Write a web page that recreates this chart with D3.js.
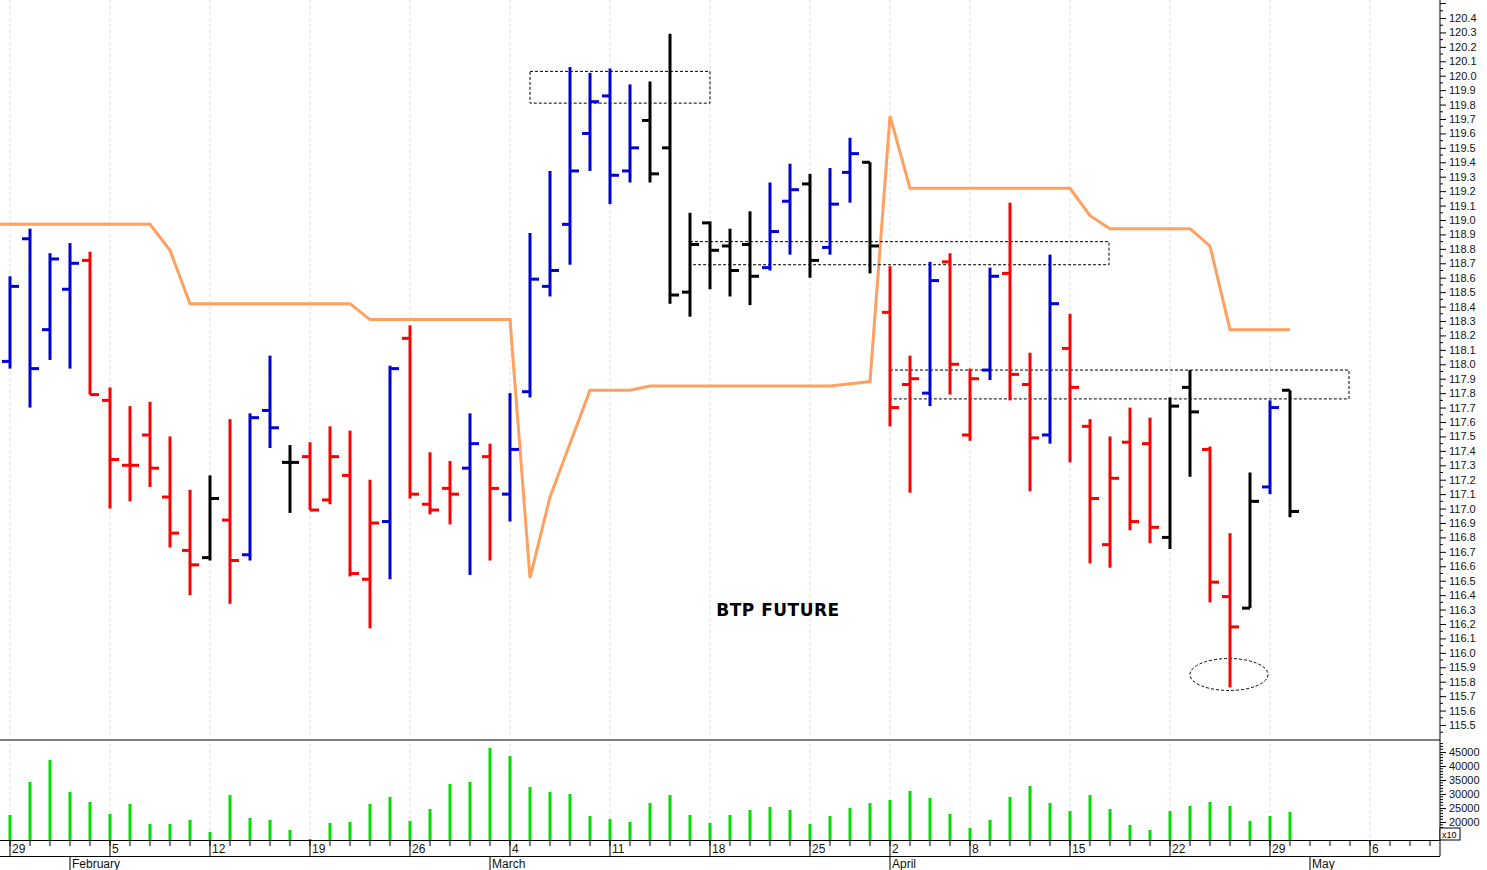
<!DOCTYPE html>
<html><head><meta charset="utf-8">
<script src="https://cdn.jsdelivr.net/npm/d3@7"></script>
<style>body{margin:0;background:#fff;overflow:hidden}svg{display:block;font-family:"Liberation Sans",Arial,sans-serif}</style>
</head><body><svg id="c" width="1487" height="870"></svg>
<script>
const opens  = [118.02,118.87,118.24,118.52,118.72,117.75,117.30,117.51,117.08,116.71,116.66,116.92,116.68,117.68,117.32,117.36,117.06,117.23,116.51,116.91,118.18,117.03,117.14,117.28,117.36,117.10,117.81,118.54,118.97,119.60,119.86,119.34,119.69,119.50,118.50,118.98,118.82,118.83,118.67,119.13,119.25,118.81,119.33,119.40,118.36,117.86,117.80,118.71,117.51,117.96,118.63,117.86,117.51,118.11,117.57,116.75,117.46,117.45,116.80,117.84,117.41,116.39,116.31,117.15,117.82];
const highs  = [118.61,118.94,118.77,118.84,118.78,117.84,117.71,117.74,117.50,117.13,117.23,117.62,117.66,118.06,117.44,117.46,117.57,117.54,117.20,117.99,118.27,117.39,117.33,117.66,117.45,117.80,118.91,119.34,120.06,120.02,120.05,119.94,119.96,120.29,119.05,118.99,118.94,119.06,119.26,119.39,119.32,119.36,119.57,119.40,118.68,118.06,118.71,118.77,117.97,118.67,119.12,118.08,118.76,118.35,117.62,117.50,117.70,117.63,117.77,117.96,117.43,116.83,117.25,117.75,117.82];
const lows   = [117.97,117.70,118.03,117.97,117.79,117.00,117.05,117.15,116.73,116.40,116.64,116.34,116.64,117.42,116.97,116.99,117.03,116.53,116.17,116.51,117.07,116.96,116.89,116.54,116.64,116.91,117.77,118.47,118.69,119.34,119.11,119.26,119.26,118.42,118.33,118.52,118.47,118.41,118.65,118.76,118.60,118.76,119.12,118.63,117.57,117.11,117.71,117.79,117.47,117.89,117.75,117.12,117.45,117.32,116.62,116.59,116.85,116.76,116.72,117.22,116.35,115.76,116.31,117.10,116.94];
const closes = [118.54,117.97,118.73,118.70,117.79,117.34,117.30,117.28,116.83,116.61,117.07,116.64,117.63,117.56,117.32,116.99,117.36,116.55,116.90,117.97,117.10,116.99,117.10,117.45,117.14,117.41,118.59,118.65,119.34,119.82,119.31,119.50,119.32,118.48,118.83,118.79,118.65,118.61,118.92,119.21,118.72,119.11,119.46,118.82,117.70,117.90,118.58,118.00,117.90,118.61,117.93,117.49,118.42,117.84,117.07,117.21,116.91,116.87,117.71,117.67,116.49,116.18,117.05,117.70,116.98];
const barColors = "bbbbrrrrrrkrbbkrrrrbrrrbrbbbbbbbkkkkkkbbkbbkrrbrrbrrbrrrrrkkrrkbk";
const volumes = [22500,34280,42130,30710,27140,22860,26430,19290,19290,20710,16430,29640,21430,20710,17140,13930,19640,20000,26430,28930,20360,24640,33570,34280,46420,43560,32500,30710,30000,22140,21070,20000,26780,29640,22500,19640,22500,24280,25360,24280,19290,22140,25000,26780,27850,31070,28570,22860,17860,20710,28930,32850,26780,23930,29640,24640,18930,17140,23930,25710,27140,25710,20360,22140,23570];
const bandIdx = [-1,7,8,9,17,18,25,26,27,29,31,32,41,43,44,45,53,54,55,59,60,61,64];
const bandVal = [118.97,118.97,118.79,118.42,118.42,118.31,118.31,116.52,117.08,117.82,117.82,117.85,117.85,117.88,119.72,119.22,119.22,119.03,118.94,118.94,118.82,118.24,118.24];
const weekIdx = [0,5,10,15,20,25,30,35,40,44,48,53,58,63,68];
const weekLabels = ["29","5","12","19","26","4","11","18","25","2","8","15","22","29","6"];
const monthIdx = [3,24,44,65];
const monthLabels = ["February","March","April","May"];
const priceTicks = d3.range(1155,1205).map(v=>v/10);
const volTicks = [20000,25000,30000,35000,40000,45000];
const boxes = [[26,35,120.03,119.81],[34,54.95,118.85,118.69],[44,66.95,117.96,117.76]];
const ellipse = [60.95,115.85];

const svg = d3.select("#c");
const W = 1440;
const x = d3.scaleLinear().domain([0,1]).range([10,30]);
const y = d3.scaleLinear().domain([115.5,120.4]).range([725,18]);
const yv = d3.scaleLinear().domain([13574,49274]).range([840,740]);
const col = {b:"#0000d8",r:"#ff0000",k:"#000000"};

svg.append("g").selectAll("line").data(weekIdx).join("line")
  .attr("x1",d=>x(d)).attr("x2",d=>x(d)).attr("y1",0).attr("y2",840)
  .attr("stroke","#e0e0e0").attr("stroke-dasharray","3,3");

svg.append("path").datum(bandIdx.map((d,i)=>[d,bandVal[i]]))
  .attr("d",d3.line().x(d=>x(d[0])).y(d=>y(d[1])))
  .attr("fill","none").attr("stroke","#ffa060").attr("stroke-width",3);

svg.append("g").selectAll("rect").data(boxes).join("rect")
  .attr("x",d=>x(d[0])).attr("width",d=>x(d[1])-x(d[0]))
  .attr("y",d=>y(d[2])).attr("height",d=>y(d[3])-y(d[2]))
  .attr("fill","none").attr("stroke","#000").attr("stroke-dasharray","3,2");
svg.append("ellipse").attr("cx",x(ellipse[0])).attr("cy",y(ellipse[1])).attr("rx",39).attr("ry",16)
  .attr("fill","none").attr("stroke","#000").attr("stroke-dasharray","3,2");

const g = svg.append("g");
opens.forEach((o,i)=>{
  const c = col[barColors[i]], cx = x(i);
  g.append("line").attr("x1",cx).attr("x2",cx).attr("y1",y(highs[i])).attr("y2",y(lows[i])).attr("stroke",c).attr("stroke-width",3);
  g.append("line").attr("x1",cx-8).attr("x2",cx).attr("y1",y(o)).attr("y2",y(o)).attr("stroke",c).attr("stroke-width",3);
  g.append("line").attr("x1",cx).attr("x2",cx+9).attr("y1",y(closes[i])).attr("y2",y(closes[i])).attr("stroke",c).attr("stroke-width",3);
});

svg.append("g").selectAll("rect").data(volumes).join("rect")
  .attr("x",(d,i)=>x(i)-1.5).attr("width",3).attr("y",d=>yv(d)).attr("height",d=>840-yv(d)).attr("fill","#00e000");

svg.append("text").attr("x",778).attr("y",616).attr("text-anchor","middle")
  .attr("font-family","'DejaVu Sans',Verdana,sans-serif").attr("font-weight","bold").attr("font-size",17).attr("letter-spacing",0.5).text("BTP FUTURE");

svg.append("line").attr("x1",0).attr("x2",W).attr("y1",740).attr("y2",740).attr("stroke","#000");
svg.append("line").attr("x1",W).attr("x2",W).attr("y1",0).attr("y2",856).attr("stroke","#000");
svg.append("line").attr("x1",0).attr("x2",W).attr("y1",840.5).attr("y2",840.5).attr("stroke","#000");
svg.append("line").attr("x1",0).attr("x2",W).attr("y1",856.5).attr("y2",856.5).attr("stroke","#000");

const ay = svg.append("g").attr("transform",`translate(${W},0)`)
  .call(d3.axisRight(y).tickValues(priceTicks).tickFormat(d3.format(".1f")).tickSize(6));
const minors = d3.range(11545,12055,5).filter(v=>v%10!==0).map(v=>v/100);
ay.selectAll(".mn").data(minors).join("line").attr("class","mn").attr("x1",0).attr("x2",3).attr("y1",d=>y(d)).attr("y2",d=>y(d)).attr("stroke","#000");
ay.append("line").attr("x1",0).attr("x2",6).attr("y1",y(120.5)).attr("y2",y(120.5)).attr("stroke","#000");
const av = svg.append("g").attr("transform",`translate(${W},0)`)
  .call(d3.axisRight(yv).tickValues(volTicks).tickFormat(d3.format("d")).tickSize(6));
av.selectAll(".mn").data(d3.range(15000,49000,1000).filter(v=>v%5000)).join("line").attr("class","mn")
  .attr("x1",0).attr("x2",3).attr("y1",d=>yv(d)).attr("y2",d=>yv(d)).attr("stroke","#000");
[ay,av].forEach(a=>{a.select(".domain").remove();a.selectAll("text").attr("font-size",11).attr("fill","#111").attr("x",9).attr("font-family","'Liberation Sans',Arial,sans-serif");});
svg.append("rect").attr("x",W).attr("y",828).attr("width",20).attr("height",12).attr("fill","#fff").attr("stroke","#000");
svg.append("text").attr("x",W+2).attr("y",838).attr("font-size",9).text("x10");

svg.append("g").selectAll("line").data(d3.range(0,72)).join("line")
  .attr("x1",d=>x(d)).attr("x2",d=>x(d)).attr("y1",841).attr("y2",846).attr("stroke","#000");
const wk = svg.append("g").selectAll("g").data(weekIdx).join("g").attr("transform",d=>`translate(${x(d)},0)`);
wk.append("line").attr("y1",841).attr("y2",856).attr("stroke","#000");
wk.append("text").attr("x",2).attr("y",853).attr("font-size",12).attr("fill","#111").text((d,i)=>weekLabels[i]);
const mo = svg.append("g").selectAll("g").data(monthIdx).join("g").attr("transform",d=>`translate(${x(d)},0)`);
mo.append("line").attr("y1",856).attr("y2",870).attr("stroke","#000");
mo.append("text").attr("x",2).attr("y",868).attr("font-size",12).attr("fill","#111").text((d,i)=>monthLabels[i]);
</script></body></html>
